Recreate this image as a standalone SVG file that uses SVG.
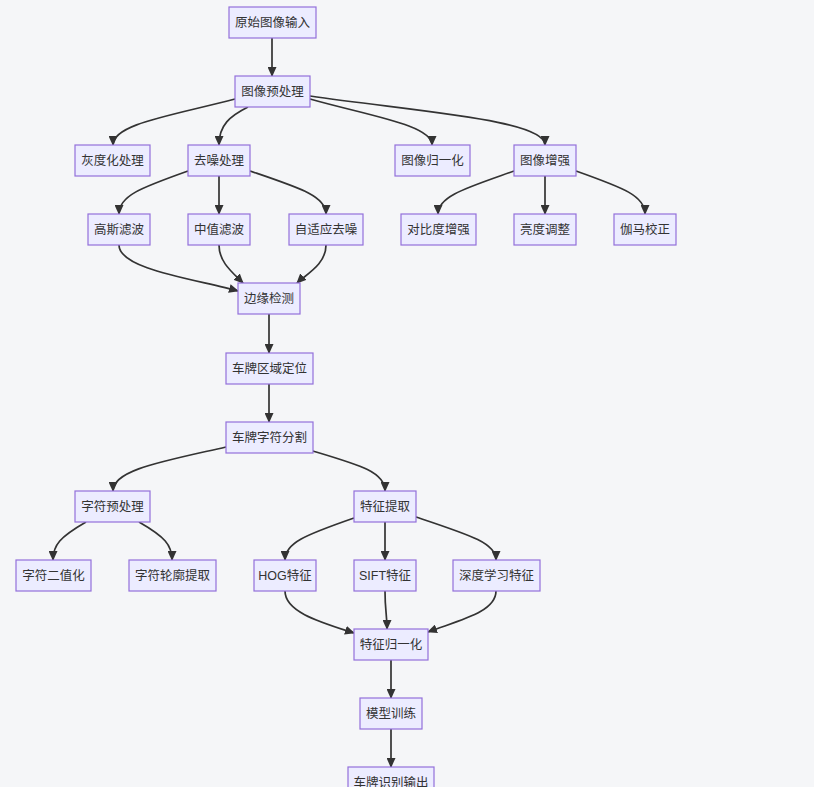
<svg xmlns="http://www.w3.org/2000/svg" width="829" height="787" viewBox="0 0 829 787">
<style>
.n rect{fill:#ECECFF;stroke:#9370DB;stroke-width:1.2}
.n text{font-family:"Liberation Sans","Noto Sans CJK SC",sans-serif;font-size:12.5px;fill:#333;text-anchor:middle;dominant-baseline:central}
.e path{fill:none;stroke:#333;stroke-width:1.7;marker-end:url(#arr)}
</style>
<defs>
<marker id="arr" viewBox="0 0 10 10" refX="9" refY="5" markerWidth="10" markerHeight="9" markerUnits="userSpaceOnUse" orient="auto" preserveAspectRatio="none">
<path d="M0,0 L10,5 L0,10 z" fill="#333"/>
</marker>
</defs>
<rect x="0" y="0" width="829" height="787" fill="#ffffff"/>
<rect x="0" y="0" width="814" height="787" fill="#f5f6f8"/>
<g class="e" id="edges">
<path d="M272,38 L272,76"/>
<path d="M235,99 C170,116 113,124 113,145"/>
<path d="M248,107 C230,116 219,125 219,145"/>
<path d="M310,99 C370,116 432,125 432,145"/>
<path d="M310,96 C420,112 545,120 545,145"/>
<path d="M188,171 C140,188 119,196 119,214"/>
<path d="M219,176 L219,214"/>
<path d="M250,171 C300,188 326,196 326,214"/>
<path d="M514,171 C466,188 438,196 438,214"/>
<path d="M545,176 L545,214"/>
<path d="M576,171 C624,188 645,196 645,214"/>
<path d="M119,245 C119,270 200,280 238,291"/>
<path d="M219,245 C219,262 232,272 243,283"/>
<path d="M326,245 C326,265 305,275 297,283"/>
<path d="M269,314 L269,353"/>
<path d="M269,384 L269,422"/>
<path d="M226,447 C160,462 113,470 113,491"/>
<path d="M313,451 C360,465 385,472 385,491"/>
<path d="M86,522 C60,537 53,545 53,560"/>
<path d="M139,522 C165,537 172,545 172,560"/>
<path d="M354,518 C305,535 285,543 285,560"/>
<path d="M385,522 L385,560"/>
<path d="M416,517 C470,535 496,543 496,560"/>
<path d="M285,591 C285,612 320,622 354,633"/>
<path d="M385,591 C385,610 387,615 387,629"/>
<path d="M496,591 C496,612 460,620 428,632"/>
<path d="M391,660 L391,698"/>
<path d="M391,729 L391,767"/>
</g>
<g class="n" id="n1"><rect x="229" y="7" width="87" height="31"/><text x="272.5" y="22.5">原始图像输入</text></g>
<g class="n" id="n2"><rect x="235" y="76" width="75" height="31"/><text x="272.5" y="91.5">图像预处理</text></g>
<g class="n" id="n3"><rect x="75" y="145" width="75" height="31"/><text x="112.5" y="160.5">灰度化处理</text></g>
<g class="n" id="n4"><rect x="188" y="145" width="62" height="31"/><text x="219" y="160.5">去噪处理</text></g>
<g class="n" id="n5"><rect x="395" y="145" width="75" height="31"/><text x="432.5" y="160.5">图像归一化</text></g>
<g class="n" id="n6"><rect x="514" y="145" width="62" height="31"/><text x="545" y="160.5">图像增强</text></g>
<g class="n" id="n7"><rect x="88" y="214" width="62" height="31"/><text x="119" y="229.5">高斯滤波</text></g>
<g class="n" id="n8"><rect x="188" y="214" width="62" height="31"/><text x="219" y="229.5">中值滤波</text></g>
<g class="n" id="n9"><rect x="289" y="214" width="74" height="31"/><text x="326" y="229.5">自适应去噪</text></g>
<g class="n" id="n10"><rect x="401" y="214" width="75" height="31"/><text x="438.5" y="229.5">对比度增强</text></g>
<g class="n" id="n11"><rect x="514" y="214" width="62" height="31"/><text x="545" y="229.5">亮度调整</text></g>
<g class="n" id="n12"><rect x="614" y="214" width="62" height="31"/><text x="645" y="229.5">伽马校正</text></g>
<g class="n" id="n13"><rect x="238" y="283" width="62" height="31"/><text x="269" y="298.5">边缘检测</text></g>
<g class="n" id="n14"><rect x="226" y="353" width="87" height="31"/><text x="269.5" y="368.5">车牌区域定位</text></g>
<g class="n" id="n15"><rect x="226" y="422" width="87" height="31"/><text x="269.5" y="437.5">车牌字符分割</text></g>
<g class="n" id="n16"><rect x="75" y="491" width="75" height="31"/><text x="112.5" y="506.5">字符预处理</text></g>
<g class="n" id="n17"><rect x="354" y="491" width="62" height="31"/><text x="385" y="506.5">特征提取</text></g>
<g class="n" id="n18"><rect x="16" y="560" width="75" height="31"/><text x="53.5" y="575.5">字符二值化</text></g>
<g class="n" id="n19"><rect x="129" y="560" width="87" height="31"/><text x="172.5" y="575.5">字符轮廓提取</text></g>
<g class="n" id="n20"><rect x="254" y="560" width="62" height="31"/><text x="285" y="575.5">HOG特征</text></g>
<g class="n" id="n21"><rect x="354" y="560" width="62" height="31"/><text x="385" y="575.5">SIFT特征</text></g>
<g class="n" id="n22"><rect x="453" y="560" width="87" height="31"/><text x="496.5" y="575.5">深度学习特征</text></g>
<g class="n" id="n23"><rect x="354" y="629" width="74" height="31"/><text x="391" y="644.5">特征归一化</text></g>
<g class="n" id="n24"><rect x="360" y="698" width="62" height="31"/><text x="391" y="713.5">模型训练</text></g>
<g class="n" id="n25"><rect x="348" y="767" width="86" height="31"/><text x="391" y="782.5">车牌识别输出</text></g>
</svg>
